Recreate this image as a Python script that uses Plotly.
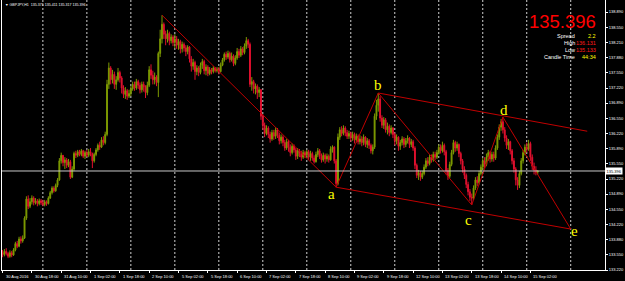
import plotly.graph_objects as go

# ---------------- data (GBPJPY H1) ----------------
symbol = "GBPJPY,H1"
bars_per_day = [22, 24, 24, 24, 24, 24, 24, 24, 24, 24, 24, 24, 7]
first_open = 133.60

close = [
    # 30 Aug
    133.56, 133.63, 133.58, 133.52, 133.60, 133.55, 133.66, 133.80, 133.74, 133.90, 133.86,
    133.92, 134.36, 134.78, 134.62, 134.72, 134.80, 134.70, 134.74, 134.68, 134.74, 134.70,
    # 31 Aug
    134.66, 134.72, 134.68, 134.80, 134.92, 135.02, 134.96, 135.08, 135.20, 135.62, 135.74, 135.58,
    135.64, 135.52, 135.60, 135.26, 135.44, 135.78, 135.74, 135.82, 135.76, 135.84, 135.72, 135.80,
    # 1 Sep
    135.74, 135.82, 135.78, 135.62, 135.76, 135.86, 135.96, 135.92, 136.08, 136.02, 136.20, 137.30,
    137.66, 137.40, 137.52, 137.30, 137.40, 137.56, 137.44, 137.22, 137.08, 137.16, 137.04, 137.10,
    # 2 Sep
    137.20, 137.30, 137.22, 137.36, 137.28, 137.18, 137.30, 137.24, 137.12, 137.28, 137.62, 137.50,
    137.40, 137.46, 137.34, 137.98, 138.30, 138.62, 138.40, 138.30, 138.42, 138.26, 138.34, 138.22,
    # 5 Sep
    138.30, 138.16, 138.24, 138.08, 138.18, 138.10, 138.02, 138.12, 137.86, 137.70, 137.78, 137.58,
    137.66, 137.56, 137.72, 137.80, 137.60, 137.68, 137.54, 137.62, 137.58, 137.66, 137.60, 137.64,
    # 6 Sep
    137.58, 137.72, 137.84, 137.96, 137.90, 137.98, 137.84, 137.92, 137.76, 137.88, 138.02, 137.94,
    138.08, 138.00, 138.14, 138.26, 138.18, 137.30, 137.36, 137.20, 137.26, 137.12, 137.18, 136.60,
    # 7 Sep
    136.40, 136.22, 136.34, 136.20, 136.10, 136.24, 136.16, 136.30, 136.18, 136.06, 136.14, 136.02,
    135.90, 136.04, 135.92, 135.80, 135.94, 135.86, 135.72, 135.84, 135.78, 135.70, 135.80, 135.74,
    # 8 Sep
    135.82, 135.70, 135.78, 135.68, 135.60, 135.76, 135.84, 135.72, 135.64, 135.74, 135.66, 135.72,
    135.64, 135.88, 135.92, 135.62, 135.12, 136.14, 136.30, 136.22, 136.34, 136.24, 136.16, 136.22,
    # 9 Sep
    136.12, 136.20, 136.08, 136.16, 136.04, 136.10, 136.02, 136.14, 135.98, 136.06, 135.96, 135.84,
    135.92, 136.60, 136.84, 136.98, 136.56, 136.40, 136.52, 136.30, 136.38, 136.24, 136.34, 136.20,
    # 12 Sep
    136.06, 136.14, 135.94, 136.02, 136.10, 135.98, 136.06, 136.12, 135.98, 136.04, 135.90, 135.52,
    135.30, 135.36, 135.26, 135.34, 135.48, 135.62, 135.56, 135.70, 135.64, 135.76, 135.70, 135.80,
    # 13 Sep
    135.92, 135.84, 135.96, 135.82, 135.40, 135.28, 135.54, 135.80, 136.02, 135.90, 135.98, 135.78,
    135.62, 135.44, 135.30, 135.10, 134.94, 134.82, 134.80, 135.02, 135.20, 135.14, 135.34, 135.48,
    # 14 Sep
    135.62, 135.54, 135.70, 135.80, 135.66, 135.76, 135.68, 135.90, 136.14, 136.36, 136.48, 136.30,
    136.12, 135.96, 136.04, 135.84, 135.62, 135.44, 135.20, 135.08, 135.34, 135.62, 135.80, 135.92,
    # 15 Sep
    135.88, 136.00, 135.70, 135.50, 135.42, 135.371, 135.396,
]

high = [
    133.66, 133.68, 133.70, 133.62, 133.65, 133.64, 133.70, 133.84, 133.86, 133.95, 133.96,
    133.98, 134.40, 134.84, 134.86, 134.80, 134.86, 134.84, 134.80, 134.78, 134.79, 134.78,
    134.76, 134.76, 134.75, 134.84, 134.96, 135.06, 135.06, 135.12, 135.24, 135.68, 135.80, 135.74,
    135.70, 135.68, 135.66, 135.64, 135.50, 135.82, 135.84, 135.86, 135.86, 135.88, 135.86, 135.84,
    135.86, 135.88, 135.90, 135.80, 135.80, 135.90, 136.00, 136.04, 136.14, 136.16, 136.26, 137.40,
    137.78, 137.70, 137.62, 137.58, 137.48, 137.66, 137.60, 137.48, 137.28, 137.24, 137.20, 137.18,
    137.26, 137.36, 137.36, 137.42, 137.40, 137.34, 137.36, 137.36, 137.28, 137.36, 137.70, 137.74,
    137.60, 137.56, 137.50, 138.02, 138.50, 138.82, 138.66, 138.48, 138.50, 138.46, 138.40, 138.38,
    138.40, 138.36, 138.30, 138.28, 138.24, 138.22, 138.16, 138.16, 138.14, 137.92, 137.86, 137.82,
    137.72, 137.70, 137.78, 137.86, 137.84, 137.74, 137.72, 137.68, 137.66, 137.70, 137.68, 137.68,
    137.68, 137.78, 137.88, 138.00, 138.02, 138.04, 138.02, 138.00, 137.96, 137.94, 138.10, 138.08,
    138.14, 138.12, 138.20, 138.34, 138.30, 138.22, 137.46, 137.40, 137.32, 137.30, 137.24, 137.20,
    136.64, 136.46, 136.40, 136.38, 136.26, 136.30, 136.30, 136.36, 136.34, 136.24, 136.20, 136.18,
    136.08, 136.10, 136.08, 135.98, 136.00, 135.98, 135.90, 135.90, 135.88, 135.84, 135.86, 135.84,
    135.86, 135.86, 135.84, 135.82, 135.74, 135.82, 135.90, 135.88, 135.78, 135.80, 135.78, 135.78,
    135.76, 135.94, 135.96, 135.94, 135.66, 136.22, 136.36, 136.38, 136.40, 136.38, 136.30, 136.28,
    136.26, 136.26, 136.24, 136.22, 136.20, 136.18, 136.16, 136.20, 136.16, 136.12, 136.10, 136.00,
    135.98, 136.66, 136.96, 137.11, 137.04, 136.62, 136.58, 136.56, 136.46, 136.42, 136.40, 136.36,
    136.24, 136.20, 136.16, 136.08, 136.16, 136.14, 136.12, 136.18, 136.14, 136.10, 136.08, 135.94,
    135.56, 135.42, 135.40, 135.40, 135.54, 135.68, 135.70, 135.76, 135.76, 135.82, 135.82, 135.86,
    135.98, 135.98, 136.04, 136.00, 135.86, 135.46, 135.60, 135.86, 136.08, 136.06, 136.04, 136.00,
    135.82, 135.66, 135.50, 135.34, 135.16, 135.00, 134.90, 135.08, 135.26, 135.28, 135.40, 135.54,
    135.68, 135.70, 135.78, 135.86, 135.84, 135.82, 135.82, 135.96, 136.20, 136.42, 136.54, 136.58,
    136.36, 136.18, 136.10, 136.06, 135.88, 135.68, 135.48, 135.26, 135.40, 135.68, 135.86, 135.98,
    136.02, 136.08, 136.04, 135.76, 135.58, 135.50, 135.411,
]

low = [
    133.50, 133.52, 133.54, 133.48, 133.49, 133.50, 133.53, 133.63, 133.70, 133.72, 133.80,
    133.82, 133.90, 134.32, 134.56, 134.58, 134.66, 134.64, 134.66, 134.62, 134.64, 134.65,
    134.62, 134.62, 134.63, 134.66, 134.78, 134.88, 134.92, 134.94, 135.04, 135.18, 135.56, 135.50,
    135.44, 135.46, 135.48, 135.22, 135.24, 135.40, 135.68, 135.70, 135.72, 135.72, 135.68, 135.66,
    135.70, 135.70, 135.72, 135.46, 135.58, 135.72, 135.82, 135.86, 135.90, 135.96, 135.98, 136.16,
    137.20, 137.30, 137.32, 137.20, 137.18, 137.36, 137.34, 137.10, 137.00, 136.98, 136.96, 137.00,
    137.04, 137.16, 137.16, 137.18, 137.20, 137.10, 137.12, 137.14, 137.00, 137.06, 137.24, 137.42,
    137.30, 137.30, 137.26, 137.02, 137.90, 138.20, 138.30, 138.16, 138.22, 138.16, 138.20, 138.14,
    138.10, 138.08, 138.06, 137.98, 138.00, 138.02, 137.92, 137.96, 137.78, 137.58, 137.62, 137.40,
    137.50, 137.48, 137.52, 137.64, 137.52, 137.50, 137.48, 137.50, 137.52, 137.54, 137.56, 137.56,
    137.52, 137.56, 137.70, 137.80, 137.84, 137.86, 137.78, 137.80, 137.70, 137.72, 137.84, 137.88,
    137.90, 137.94, 137.96, 138.08, 138.10, 137.24, 137.16, 137.10, 137.08, 136.98, 137.02, 136.52,
    136.30, 136.14, 136.18, 136.12, 136.02, 136.06, 136.08, 136.10, 136.12, 135.98, 136.00, 135.94,
    135.84, 135.86, 135.82, 135.72, 135.76, 135.80, 135.64, 135.66, 135.70, 135.62, 135.66, 135.68,
    135.68, 135.64, 135.62, 135.62, 135.56, 135.58, 135.70, 135.66, 135.58, 135.60, 135.56, 135.60,
    135.58, 135.62, 135.80, 135.56, 135.04, 135.08, 136.08, 136.16, 136.18, 136.16, 136.10, 136.10,
    136.04, 136.06, 136.00, 136.02, 135.98, 135.98, 135.94, 135.96, 135.92, 135.90, 135.88, 135.78,
    135.76, 135.88, 136.52, 136.70, 136.48, 136.34, 136.32, 136.24, 136.20, 136.16, 136.20, 136.12,
    135.96, 135.98, 135.84, 135.86, 135.96, 135.90, 135.92, 136.00, 135.90, 135.92, 135.84, 135.44,
    135.24, 135.20, 135.18, 135.22, 135.30, 135.44, 135.50, 135.52, 135.58, 135.60, 135.64, 135.66,
    135.76, 135.78, 135.80, 135.74, 135.32, 135.20, 135.24, 135.50, 135.76, 135.82, 135.84, 135.70,
    135.54, 135.36, 135.22, 135.02, 134.86, 134.74, 134.65, 134.76, 134.98, 135.06, 135.10, 135.30,
    135.42, 135.46, 135.50, 135.62, 135.58, 135.60, 135.60, 135.64, 135.86, 136.08, 136.28, 136.22,
    136.04, 135.88, 135.86, 135.76, 135.54, 135.36, 135.08, 134.98, 135.02, 135.30, 135.56, 135.74,
    135.80, 135.84, 135.62, 135.42, 135.32, 135.30, 135.317,
]

# time-axis labels, one every 16 bars
time_labels = ["30 Aug 2016", "30 Aug 18:00", "31 Aug 10:00", "1 Sep 02:00", "1 Sep 18:00",
               "2 Sep 10:00", "5 Sep 02:00", "5 Sep 18:00", "6 Sep 10:00", "7 Sep 02:00",
               "7 Sep 18:00", "8 Sep 10:00", "9 Sep 02:00", "9 Sep 18:00", "12 Sep 10:00",
               "13 Sep 02:00", "13 Sep 18:00", "14 Sep 10:00", "15 Sep 02:00"]
label_step = 16

price_ticks = [138.890, 138.550, 138.210, 137.880, 137.550, 137.220, 136.890, 136.550, 136.220,
               135.890, 135.550, 135.220, 134.890, 134.550, 134.220, 133.880, 133.550, 133.220]

# Elliott-style wave points: (bar index, price)
peak_point = (87, 138.82)
wave_names = ["a", "b", "c", "d", "e"]
wave_bars = [182, 205, 256, 273, 310]
wave_prices = [135.04, 137.11, 134.65, 136.58, 134.12]
upper_channel_end = (319, 136.27)

last_ohlc = [135.371, 135.411, 135.317, 135.396]
spread = "2.2"
day_high = "136.131"
day_low = "135.133"
candle_time = "44:34"

# ---------------- figure ----------------
assert len(close) == len(high) == len(low) == sum(bars_per_day)
n = len(close)
idx = list(range(n))
opens = [first_open] + close[:-1]   # FX bars open at the previous close

fig = go.Figure()
fig.add_trace(go.Candlestick(
    x=idx, open=opens, high=high, low=low, close=close,
    increasing=dict(line=dict(color="#7d9a00", width=1), fillcolor="#86a300"),
    decreasing=dict(line=dict(color="#e0102e", width=1), fillcolor="#ff1a3c"),
    whiskerwidth=0, hoverinfo="skip", showlegend=False,
))

line_red = "#c00000"
pts = [peak_point, (wave_bars[0], wave_prices[0])]
fig.add_trace(go.Scatter(x=[p[0] for p in pts], y=[p[1] for p in pts], mode="lines",
                         line=dict(color=line_red, width=1), hoverinfo="skip", showlegend=False))
fig.add_trace(go.Scatter(x=wave_bars, y=wave_prices, mode="lines",
                         line=dict(color=line_red, width=1), hoverinfo="skip", showlegend=False))
fig.add_trace(go.Scatter(x=[wave_bars[0], wave_bars[4]], y=[wave_prices[0], wave_prices[4]], mode="lines",
                         line=dict(color=line_red, width=1), hoverinfo="skip", showlegend=False))
fig.add_trace(go.Scatter(x=[wave_bars[1], upper_channel_end[0]], y=[wave_prices[1], upper_channel_end[1]],
                         mode="lines", line=dict(color=line_red, width=1), hoverinfo="skip", showlegend=False))

# period separators at the start of each day
sep = []
s = bars_per_day[0]
for k in range(len(bars_per_day)):
    sep.append(s)
    s += 24
shapes = []
for xs in sep:
    shapes.append(dict(type="line", xref="x", yref="paper", x0=xs, x1=xs, y0=0, y1=1,
                       line=dict(color="#d0d0d0", width=1, dash="2px,2px"), layer="below"))
shapes.append(dict(type="line", xref="paper", yref="y", x0=0, x1=1, y0=last_ohlc[3], y1=last_ohlc[3],
                   line=dict(color="#c8c8c8", width=1)))

ann = []
small = dict(family="Arial", size=4, color="#ffffff")
for k, t in enumerate(time_labels):
    ann.append(dict(x=k * label_step, y=0, xref="x", yref="paper", text=t, showarrow=False,
                    xanchor="left", yanchor="top", yshift=-2, xshift=1, font=small))
ann.append(dict(x=0, y=1, xref="paper", yref="paper", showarrow=False, xanchor="left", yanchor="top",
                xshift=1, yshift=-1,
                text="▼ " + symbol + "  " + " ".join(f"{v:.3f}" for v in last_ohlc),
                font=dict(family="Arial", size=3.6, color="#ffffff")))
ann.append(dict(x=1, y=last_ohlc[3], xref="paper", yref="y", showarrow=False, xanchor="left",
                yanchor="middle", text=f"{last_ohlc[3]:.3f}", bgcolor="#ffffff", borderpad=0.5,
                font=dict(family="Arial", size=4, color="#000000")))

# info panel
ann.append(dict(x=(598 - 2) / 603, y=1 - 21.5 / 270, xref="paper", yref="paper", showarrow=False,
                xanchor="right", yanchor="middle", text=f"{last_ohlc[3]:.3f}",
                font=dict(family="Arial", size=18.5, color="#ff0000")))
rows = [("Spread", spread, "#ffff00", 36), ("High", day_high, "#ff1a1a", 43.5),
        ("Low", day_low, "#ff1a1a", 50), ("Candle Time", candle_time, "#ffff00", 57)]
for lab, val, col, ypx in rows:
    yy = 1 - ypx / 270
    ann.append(dict(x=(577 - 2) / 603, y=yy, xref="paper", yref="paper", showarrow=False,
                    xanchor="right", yanchor="middle", text=lab,
                    font=dict(family="Arial", size=5.5, color="#ffffff")))
    ann.append(dict(x=(598 - 2) / 603, y=yy, xref="paper", yref="paper", showarrow=False,
                    xanchor="right", yanchor="middle", text=val,
                    font=dict(family="Arial", size=5.5, color=col)))

# wave letters
offs = [(-5, -7), (0, 8), (-3, -15), (1, 7), (4, -2)]
for nm, xb, yp, (dx, dy) in zip(wave_names, wave_bars, wave_prices, offs):
    ann.append(dict(x=xb, y=yp, xref="x", yref="y", text=nm, showarrow=False, xshift=dx, yshift=dy,
                    xanchor="center", yanchor="middle",
                    font=dict(family="Liberation Serif, Times New Roman, serif", size=15, color="#ffff00")))

fig.update_layout(
    width=625, height=281, margin=dict(l=2, r=20, t=0, b=11),
    paper_bgcolor="#000000", plot_bgcolor="#000000",
    showlegend=False, shapes=shapes, annotations=ann,
    xaxis=dict(range=[-0.3, 328.7], rangeslider=dict(visible=False), showgrid=False, zeroline=False,
               showline=True, linecolor="#ffffff", linewidth=1,
               tickvals=[k * label_step for k in range(len(time_labels))], ticktext=[""] * len(time_labels),
               ticks="outside", ticklen=2, tickcolor="#ffffff", fixedrange=True),
    yaxis=dict(range=[133.22, 139.154], side="right", showgrid=False, zeroline=False,
               showline=True, mirror=True, linecolor="#ffffff", linewidth=1,
               tickvals=price_ticks, ticktext=[f"{v:.3f}" for v in price_ticks],
               ticks="outside", ticklen=2, tickcolor="#ffffff",
               tickfont=dict(family="Arial", size=4, color="#ffffff"), fixedrange=True),
)

fig.write_html("out.html")
